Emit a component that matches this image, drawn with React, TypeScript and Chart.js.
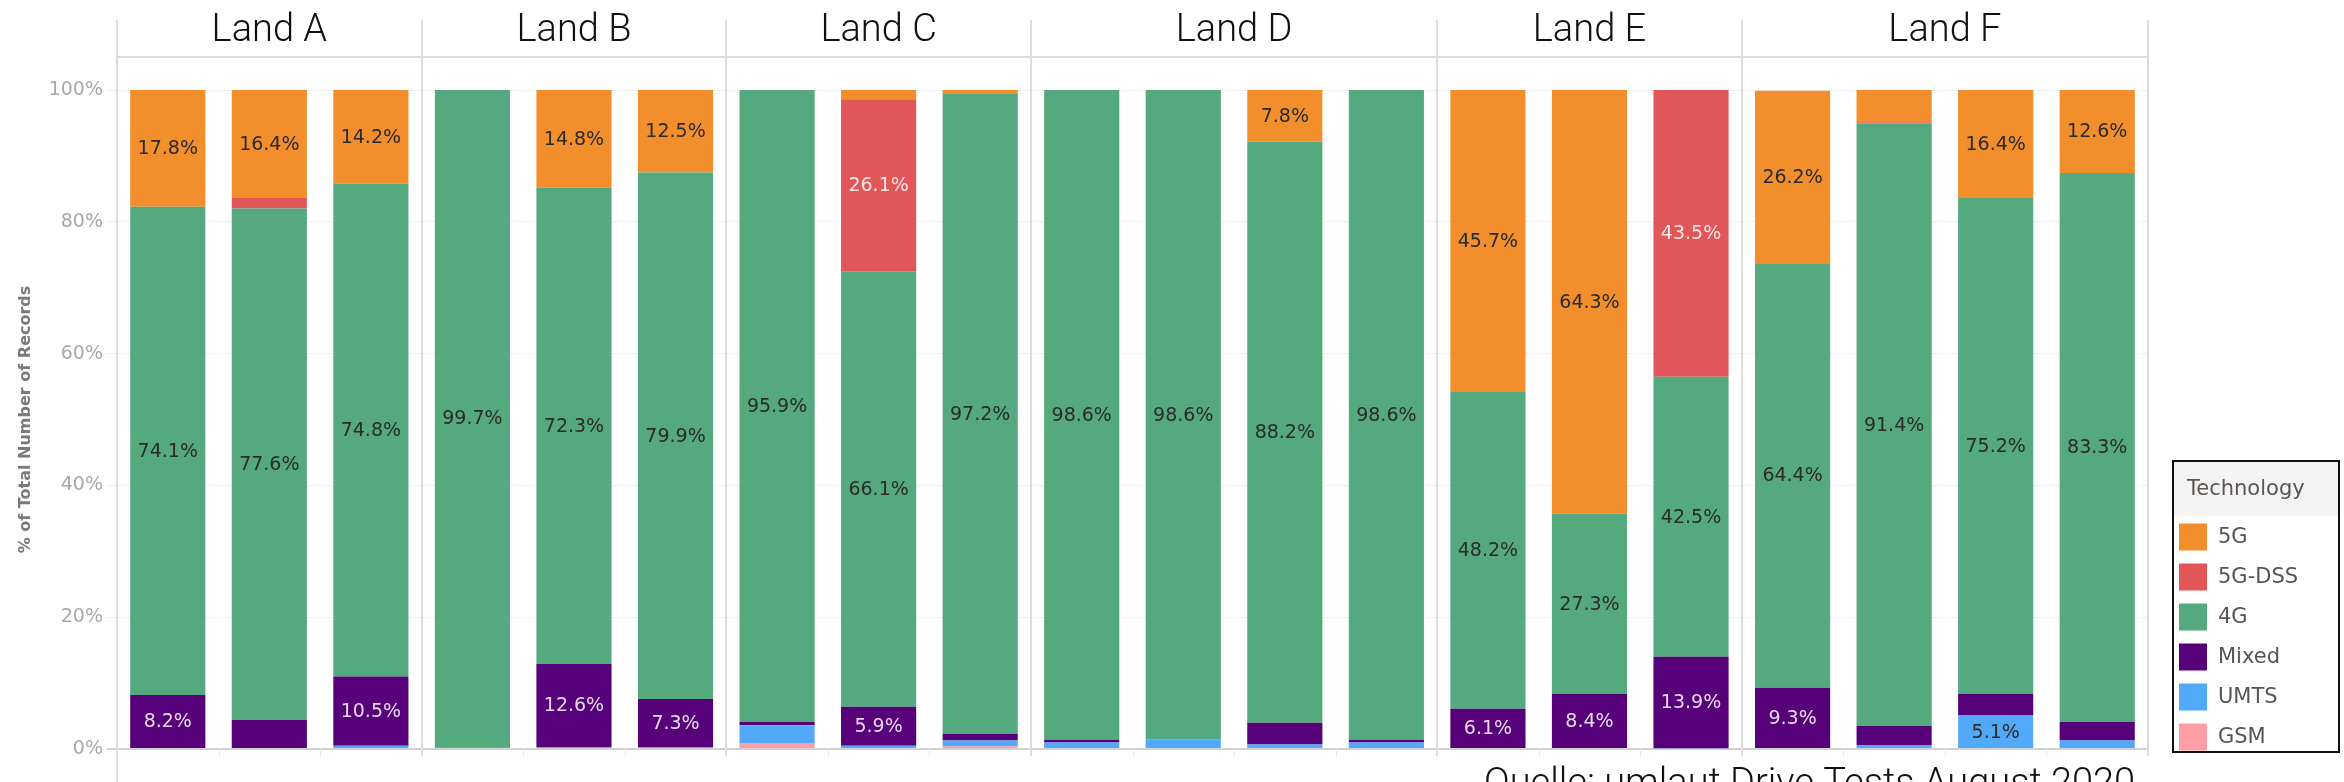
import React, { useEffect, useRef } from 'react';
import { Chart, registerables } from 'chart.js';

Chart.register(...registerables);

// ---- data ----
const groupNames = ['Land A', 'Land B', 'Land C', 'Land D', 'Land E', 'Land F'];
const groupSizes = [3, 3, 3, 4, 3, 4];
const categories = ['A1', 'A2', 'A3', 'B1', 'B2', 'B3', 'C1', 'C2', 'C3', 'D1', 'D2', 'D3', 'D4', 'E1', 'E2', 'E3', 'F1', 'F2', 'F3', 'F4'];
const yTickValues = [0, 20, 40, 60, 80, 100];

const gsm = [0, 0, 0, 0, 0, 0, 0.9, 0, 0.4, 0, 0, 0, 0, 0, 0, 0, 0, 0, 0, 0];
const umts = [0, 0, 0.5, 0.3, 0.3, 0.3, 2.7, 0.5, 0.9, 1.0, 1.4, 0.7, 1.0, 0, 0, 0.1, 0, 0.6, 5.1, 1.3];
const mixed = [8.2, 4.4, 10.5, 0, 12.6, 7.3, 0.5, 5.9, 1.0, 0.4, 0, 3.3, 0.4, 6.1, 8.4, 13.9, 9.3, 2.9, 3.3, 2.8];
const lte = [74.1, 77.6, 74.8, 99.7, 72.3, 79.9, 95.9, 66.1, 97.2, 98.6, 98.6, 88.2, 98.6, 48.2, 27.3, 42.5, 64.4, 91.4, 75.2, 83.3];
const nrDss = [0, 1.6, 0, 0, 0, 0, 0, 26.1, 0, 0, 0, 0, 0, 0, 0, 43.5, 0, 0.2, 0, 0];
const nr = [17.8, 16.4, 14.2, 0, 14.8, 12.5, 0, 1.4, 0.5, 0, 0, 7.8, 0, 45.7, 64.3, 0, 26.2, 4.9, 16.4, 12.6];

const seriesNames = ['GSM', 'UMTS', 'Mixed', '4G', '5G-DSS', '5G'];
const seriesValues = [gsm, umts, mixed, lte, nrDss, nr];

const legendTitle = 'Technology';
const axisTitle = '% of Total Number of Records';
const sourceText = 'Quelle: umlaut Drive Tests August 2020';

// ---- styles ----
const seriesColors = ['#FF9DA7', '#52A9FA', '#560079', '#54A97E', '#E15759', '#F28E2B'];
const labelColors = ['#333333', '#2a2a2a', '#E6D8EE', '#2b2b2b', '#FBE3E3', '#2b2b2b'];

const W = 2344;
const H = 782;

const decorPlugin = {
  id: 'decor',
  beforeDatasetsDraw(chart: any) {
    const ctx = chart.ctx;
    const xs = chart.scales.x;
    const ca = chart.chartArea;
    const half = (xs.getPixelForValue(1) - xs.getPixelForValue(0)) / 2;
    const bounds: number[] = [xs.getPixelForValue(0) - half];
    let idx = 0;
    groupSizes.forEach((n) => {
      idx += n;
      bounds.push(xs.getPixelForValue(idx - 1) + half);
    });
    ctx.save();
    // slot tick marks at the bottom
    ctx.strokeStyle = '#E8E8E8';
    ctx.lineWidth = 1;
    for (let k = 1; k < categories.length; k++) {
      const x = Math.round(xs.getPixelForValue(k - 1) + half) + 0.5;
      ctx.beginPath();
      ctx.moveTo(x, ca.bottom);
      ctx.lineTo(x, ca.bottom + 7);
      ctx.stroke();
    }
    // header separator line
    ctx.strokeStyle = '#DCDCDC';
    ctx.lineWidth = 2;
    ctx.beginPath();
    ctx.moveTo(bounds[0], 57);
    ctx.lineTo(bounds[bounds.length - 1], 57);
    ctx.stroke();
    // vertical separators
    bounds.forEach((b, i) => {
      const x = Math.round(b);
      ctx.beginPath();
      ctx.moveTo(x, 20);
      ctx.lineTo(x, i === 0 ? H : ca.bottom + 7);
      ctx.stroke();
    });
    // group headers
    ctx.fillStyle = '#111111';
    ctx.font = '300 38px Roboto';
    ctx.textAlign = 'center';
    ctx.textBaseline = 'alphabetic';
    groupNames.forEach((g, i) => {
      ctx.fillText(g, (bounds[i] + bounds[i + 1]) / 2, 41);
    });
    ctx.restore();
  },
  afterDatasetsDraw(chart: any) {
    const ctx = chart.ctx;
    ctx.save();
    ctx.font = '19px "DejaVu Sans"';
    ctx.textAlign = 'center';
    ctx.textBaseline = 'middle';
    chart.data.datasets.forEach((ds: any, di: number) => {
      const meta = chart.getDatasetMeta(di);
      meta.data.forEach((el: any, i: number) => {
        const v = ds.data[i];
        if (v < 5) return;
        const p = el.getProps(['x', 'y', 'base'], true);
        ctx.fillStyle = labelColors[di];
        ctx.fillText(v.toFixed(1) + '%', p.x, (p.y + p.base) / 2 + 1);
      });
    });
    ctx.restore();
  },
  afterDraw(chart: any) {
    const ctx = chart.ctx;
    ctx.save();
    // legend box
    const bx = 2173, by = 461, bw = 166, bh = 291;
    ctx.fillStyle = '#F4F4F4';
    ctx.fillRect(bx, by, bw, 55);
    ctx.strokeStyle = '#111111';
    ctx.lineWidth = 2;
    ctx.strokeRect(bx, by, bw, bh);
    ctx.fillStyle = '#5a5552';
    ctx.font = '21px "DejaVu Sans"';
    ctx.textAlign = 'left';
    ctx.textBaseline = 'middle';
    ctx.fillText(legendTitle, 2187, 490);
    const order = [5, 4, 3, 2, 1, 0];
    order.forEach((si, k) => {
      const cy = 537 + k * 40;
      ctx.fillStyle = seriesColors[si];
      ctx.fillRect(2179, cy - 13.5, 28, 27);
      ctx.fillStyle = '#555555';
      ctx.fillText(seriesNames[si], 2218, cy + 1);
    });
    // source caption (cut off at the bottom)
    ctx.fillStyle = '#111111';
    ctx.font = '300 38px Roboto';
    ctx.textBaseline = 'alphabetic';
    ctx.fillText(sourceText, 1484, 795);
    ctx.restore();
  },
};

export default function App() {
  const ref = useRef<HTMLCanvasElement | null>(null);
  useEffect(() => {
    if (!ref.current) return;
    const chart = new Chart(ref.current, {
      type: 'bar',
      data: {
        labels: categories,
        datasets: seriesNames.map((name, i) => ({
          label: name,
          data: seriesValues[i],
          backgroundColor: seriesColors[i],
          borderWidth: 0,
          barPercentage: 0.74,
          categoryPercentage: 1.0,
        })),
      },
      options: {
        responsive: false,
        animation: false,
        layout: { padding: { left: 0, right: W - 2148, top: 90, bottom: H - 749 } },
        plugins: { legend: { display: false }, tooltip: { enabled: false } },
        scales: {
          x: {
            stacked: true,
            offset: true,
            grid: { display: false },
            ticks: { display: false },
            border: { display: false },
            afterFit: (s: any) => { s.height = 0; },
          },
          y: {
            stacked: true,
            min: 0,
            max: 100,
            afterFit: (s: any) => { s.width = 117; },
            afterBuildTicks: (s: any) => { s.ticks = yTickValues.map((v) => ({ value: v })); },
            ticks: {
              callback: (v: any) => v + '%',
              color: '#A8A8A8',
              font: { size: 19, family: 'DejaVu Sans' },
              padding: 4,
            },
            grid: {
              color: (c: any) => (c.tick && c.tick.value === 0 ? '#D2D2D2' : '#F0F0F0'),
              lineWidth: (c: any) => (c.tick && c.tick.value === 0 ? 2 : 1),
              tickLength: 10,
              drawTicks: true,
            },
            border: { display: false },
            title: {
              display: true,
              text: axisTitle,
              color: '#7a7a7a',
              font: { size: 16, weight: 'bold', family: 'DejaVu Sans' },
              padding: { top: 16, bottom: 0 },
            },
          },
        },
      },
      plugins: [decorPlugin],
    });
    return () => chart.destroy();
  }, []);
  return (
    <div style={{ position: 'absolute', left: 0, top: 0, width: W, height: H, background: '#ffffff' }}>
      <canvas ref={ref} width={W} height={H} style={{ display: 'block' }} />
    </div>
  );
}
